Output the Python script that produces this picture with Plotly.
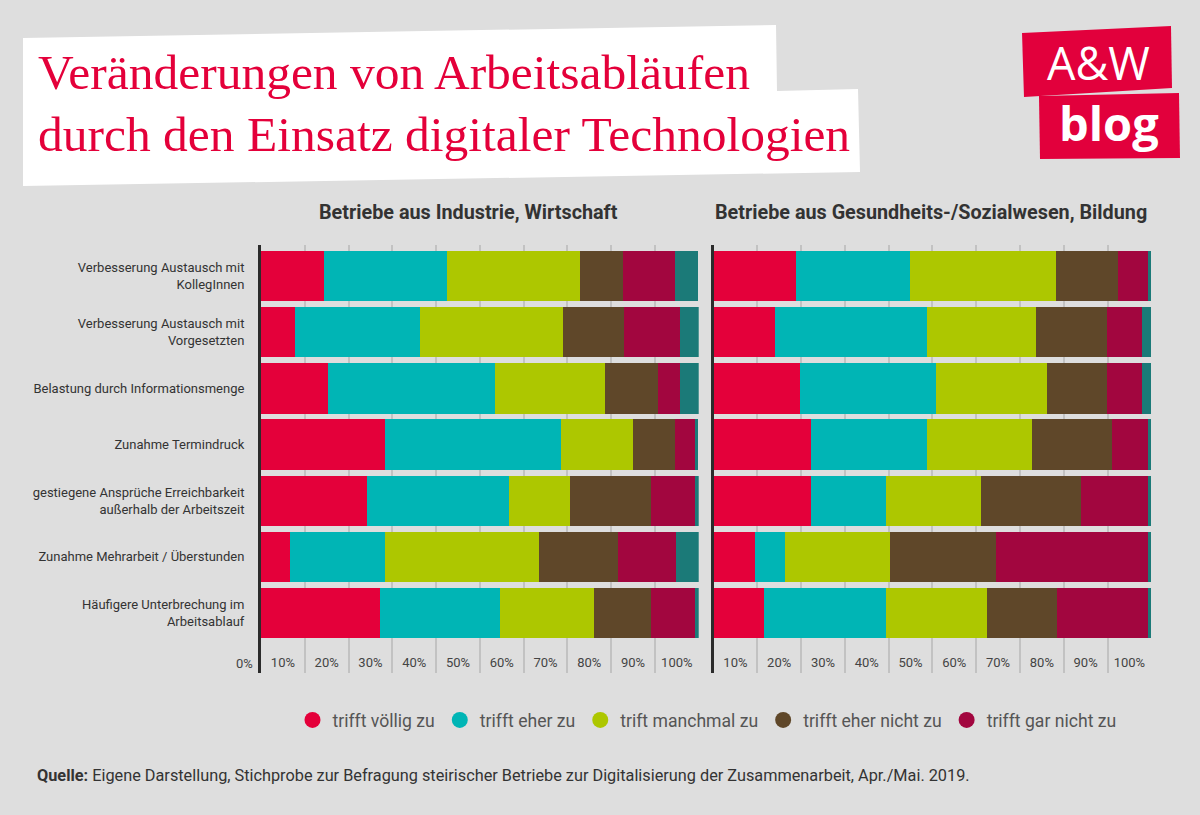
import plotly.graph_objects as go

W, H = 1200, 815

categories = [
    "Verbesserung Austausch mit<br>KollegInnen",
    "Verbesserung Austausch mit<br>Vorgesetzten",
    "Belastung durch Informationsmenge",
    "Zunahme Termindruck",
    "gestiegene Ansprüche Erreichbarkeit<br>außerhalb der Arbeitszeit",
    "Zunahme Mehrarbeit / Überstunden",
    "Häufigere Unterbrechung im<br>Arbeitsablauf",
]

series_names = ["trifft völlig zu", "trifft eher zu", "trift manchmal zu",
                "trifft eher nicht zu", "trifft gar nicht zu", "keine Angabe"]
series_colors = ["#e4003a", "#00b5b5", "#adc700", "#5f4729", "#a2063f", "#1b7a78"]

# Betriebe aus Industrie, Wirtschaft
ind_voellig = [14.3, 7.8, 15.3, 28.4, 24.3, 6.7, 27.3]
ind_eher = [28.2, 28.6, 38.2, 40.1, 32.3, 21.7, 27.2]
ind_manchmal = [30.4, 32.5, 25.0, 16.5, 14.0, 35.0, 21.6]
ind_eher_nicht = [9.7, 14.1, 12.1, 9.6, 18.6, 18.2, 13.1]
ind_gar_nicht = [12.0, 12.8, 5.2, 4.5, 10.0, 13.1, 10.0]
ind_keine = [5.3, 4.3, 4.3, 0.8, 0.8, 5.3, 0.8]

# Betriebe aus Gesundheits-/Sozialwesen, Bildung
ges_voellig = [18.8, 14.0, 19.8, 22.3, 22.3, 9.5, 11.5]
ges_eher = [26.1, 34.7, 31.0, 26.4, 17.1, 6.8, 27.9]
ges_manchmal = [33.3, 25.0, 25.4, 24.0, 21.6, 24.1, 23.0]
ges_eher_nicht = [14.1, 16.2, 13.7, 18.3, 23.0, 24.1, 16.1]
ges_gar_nicht = [6.9, 7.9, 7.9, 8.2, 15.2, 34.7, 20.7]
ges_keine = [0.8, 2.2, 2.2, 0.8, 0.8, 0.8, 0.8]

tick_vals = [5, 15, 25, 35, 45, 55, 65, 75, 85, 95]
tick_text = ["10%", "20%", "30%", "40%", "50%", "60%", "70%", "80%", "90%", "100%"]
grid_vals = [10, 20, 30, 40, 50, 60, 70, 80, 90, 100]

panel_titles = ["Betriebe aus Industrie, Wirtschaft",
                "Betriebe aus Gesundheits-/Sozialwesen, Bildung"]

ind = [ind_voellig, ind_eher, ind_manchmal, ind_eher_nicht, ind_gar_nicht, ind_keine]
ges = [ges_voellig, ges_eher, ges_manchmal, ges_eher_nicht, ges_gar_nicht, ges_keine]

fig = go.Figure()

for panel, (data, xa, ya) in enumerate([(ind, "x", "y"), (ges, "x2", "y2")]):
    for name, color, vals in zip(series_names, series_colors, data):
        fig.add_trace(go.Bar(
            y=categories, x=vals, orientation="h", name=name,
            marker=dict(color=color, line=dict(width=0)),
            xaxis=xa, yaxis=ya, showlegend=False, hoverinfo="x+name",
        ))

# legend entries (circles)
for name, color in zip(series_names[:5], series_colors[:5]):
    fig.add_trace(go.Scatter(
        x=[None], y=[None], mode="markers", name=name,
        marker=dict(color=color, size=16, symbol="circle"),
        xaxis="x", yaxis="y", showlegend=True,
    ))

def px(x, y):
    return f"{x / W:.5f},{1 - y / H:.5f}"

def poly(points):
    return "M " + " L ".join(px(x, y) for x, y in points) + " Z"

BG = "#dedede"
FONT = "Roboto"

y_top, y_bot = 245, 673
ydom = [1 - y_bot / H, 1 - y_top / H]
yrange = [7.068, -0.554]

xcommon = dict(
    range=[0, 100], tickvals=tick_vals, ticktext=tick_text,
    ticklabelposition="inside", ticks="", showgrid=False, zeroline=False,
    showline=False, tickfont=dict(family=FONT, size=13, color="#444"),
    minor=dict(tickvals=grid_vals, showgrid=True, gridcolor="#c2c2c2", gridwidth=1.5, ticks=""),
    fixedrange=True,
)
ycommon = dict(
    type="category", categoryorder="array", categoryarray=categories,
    range=yrange, domain=ydom, showgrid=False, zeroline=False,
    showline=True, linecolor="#2b2b2b", linewidth=3,
    fixedrange=True,
)

fig.update_layout(
    width=W, height=H,
    margin=dict(l=0, r=0, t=0, b=0),
    paper_bgcolor=BG, plot_bgcolor=BG,
    barmode="stack", bargap=0.104,
    font=dict(family=FONT, color="#333"),
    xaxis=dict(domain=[261 / W, 698.7 / W], anchor="y", **xcommon),
    xaxis2=dict(domain=[713.5 / W, 1151.3 / W], anchor="y2", **xcommon),
    yaxis=dict(anchor="x", ticks="outside", ticklen=11, tickcolor="rgba(0,0,0,0)",
               tickfont=dict(family=FONT, size=13, color="#333"), **ycommon),
    yaxis2=dict(anchor="x2", showticklabels=False, ticks="", **ycommon),
    legend=dict(orientation="h", x=707 / W, xanchor="center", y=1 - 720 / H, yanchor="middle",
                traceorder="normal",
                font=dict(family=FONT, size=17.6, color="#555"), bgcolor="rgba(0,0,0,0)",
                itemclick=False, itemdoubleclick=False),
    showlegend=True,
)

shapes = [
    # white title card
    dict(type="path", xref="paper", yref="paper",
         path=poly([(23, 38), (776, 25), (777, 91), (858, 89), (860, 172), (23, 186)]),
         fillcolor="white", line=dict(width=0), layer="below"),
    # logo boxes
    dict(type="path", xref="paper", yref="paper",
         path=poly([(1039, 96), (1179, 93), (1180, 158), (1040, 159)]),
         fillcolor="#e2003c", line=dict(width=0), layer="below"),
    dict(type="path", xref="paper", yref="paper",
         path=poly([(1022, 33), (1171, 26), (1172, 88), (1024, 97)]),
         fillcolor="#e2003c", line=dict(width=0), layer="below"),
]
fig.update_layout(shapes=shapes)

TITLE_RED = "#e4003a"
annotations = [
    dict(text="Veränderungen von Arbeitsabläufen", x=36 / W, y=1 - 72 / H,
         font=dict(family="Liberation Serif", size=49.5, color=TITLE_RED)),
    dict(text="durch den Einsatz digitaler Technologien", x=36 / W, y=1 - 135 / H,
         font=dict(family="Liberation Serif", size=49.5, color=TITLE_RED)),
    dict(text="A&W", x=1098 / W, y=1 - 62 / H, xanchor="center",
         font=dict(family="Open Sans", size=45, color="white")),
    dict(text="<b>blog</b>", x=1109 / W, y=1 - 123 / H, xanchor="center",
         font=dict(family="Open Sans", size=47, color="white")),
    dict(text=f"<b>{panel_titles[0]}</b>", x=468 / W, y=1 - 212 / H, xanchor="center",
         font=dict(family=FONT, size=19.8, color="#333")),
    dict(text=f"<b>{panel_titles[1]}</b>", x=931 / W, y=1 - 212 / H, xanchor="center",
         font=dict(family=FONT, size=19.8, color="#333")),
    dict(text="0%", x=244.5 / W, y=1 - 663 / H, xanchor="center",
         font=dict(family=FONT, size=13, color="#444")),
    dict(text="<b>Quelle:</b> Eigene Darstellung, Stichprobe zur Befragung steirischer Betriebe "
              "zur Digitalisierung der Zusammenarbeit, Apr./Mai. 2019.",
         x=35 / W, y=1 - 775 / H,
         font=dict(family=FONT, size=16.3, color="#333")),
]
for a in annotations:
    a.setdefault("xanchor", "left")
    a.update(xref="paper", yref="paper", yanchor="middle", showarrow=False)
fig.update_layout(annotations=annotations)

fig.write_html(
    "out.html",
    config={"displayModeBar": False},
    post_script="document.body.style.margin='0';document.body.style.background='#dedede';",
)
